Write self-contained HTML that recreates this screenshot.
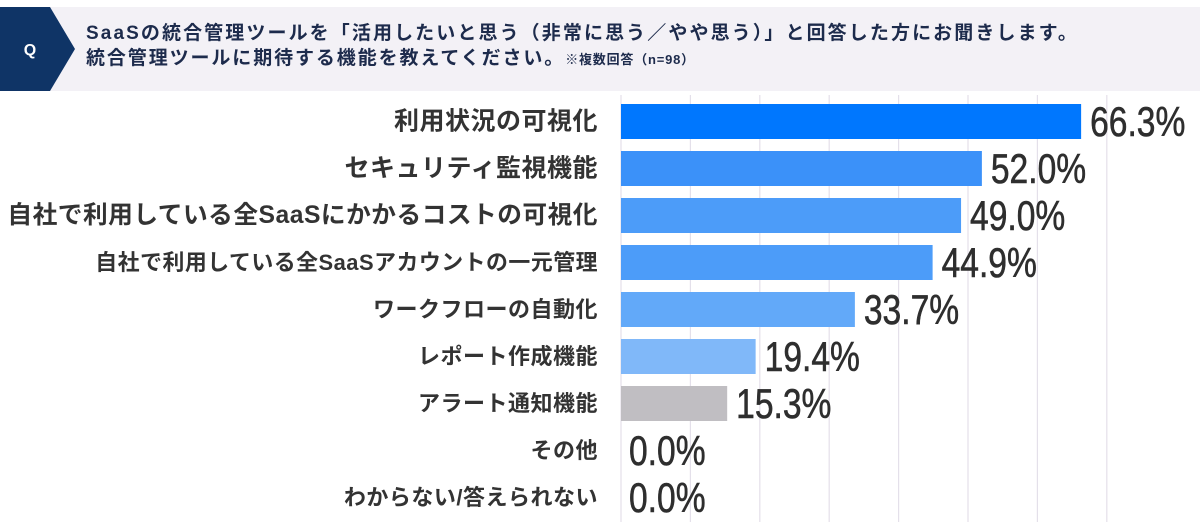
<!DOCTYPE html>
<html><head><meta charset="utf-8"><style>
body{margin:0;width:1200px;height:528px;background:#fff;overflow:hidden;font-family:"Liberation Sans","Noto Sans CJK JP",sans-serif;}
#hdr{position:absolute;left:0;top:7px;width:1200px;height:84px;background:#f3f1f6;}
.t{position:absolute;color:#1d2b4c;font-weight:bold;white-space:nowrap;}
</style></head><body>
<div id="hdr"></div>
<svg style="position:absolute;left:0;top:0" width="80" height="100">
<polygon points="0,7 50,7 75,49 50,91 0,91" fill="#0f3466"/>
<text x="30" y="55" fill="#fff" font-size="16" font-weight="bold" font-family="Liberation Sans" text-anchor="middle">Q</text>
</svg>
<div class="t" style="left:86px;top:18px;font-size:19px;letter-spacing:2.1px">SaaSの統合管理ツールを「活用したいと思う（非常に思う／やや思う）」と回答した方にお聞きします。</div>
<div class="t" style="left:86px;top:43px;font-size:19px;letter-spacing:1.9px">統合管理ツールに期待する機能を教えてください。<span style="font-size:13px;letter-spacing:0.8px">※複数回答（n=98）</span></div>
<svg id="chart" style="position:absolute;left:0;top:0" width="1200" height="528"></svg>
<script>
const categories=["利用状況の可視化","セキュリティ監視機能","自社で利用している全SaaSにかかるコストの可視化","自社で利用している全SaaSアカウントの一元管理","ワークフローの自動化","レポート作成機能","アラート通知機能","その他","わからない/答えられない"];
const values=[66.3,52.0,49.0,44.9,33.7,19.4,15.3,0.0,0.0];
const valueLabels=["66.3%","52.0%","49.0%","44.9%","33.7%","19.4%","15.3%","0.0%","0.0%"];
const gridTicks=[0,10,20,30,40,50,60,70];
const colors=["#0077fe","#3b91f9","#4c9cf9","#4c9cf9","#62a9f9","#80b8f9","#c0bec2","#c0bec2","#c0bec2"];
const labelSizes=[25,25,24.7,21.9,22,22,22,22,22];
const NS="http://www.w3.org/2000/svg";
const svg=document.getElementById('chart');
const x0=621,pxPer=6.94,rowTop=104,pitch=47,barH=35;
const xs=v=>x0+v*pxPer;
const yc=i=>rowTop+i*pitch+barH/2;
function mk(t,a){const e=document.createElementNS(NS,t);for(const k in a)e.setAttribute(k,a[k]);svg.appendChild(e);return e;}
gridTicks.forEach(t=>{
const l=mk('line',{x1:xs(t),x2:xs(t),y1:95,y2:522,stroke:'#e4e0ea','stroke-width':1.2});


});
categories.forEach((c,i)=>{
const y=yc(i);
const lab=mk('text',{x:598,y:y,'text-anchor':'end','dominant-baseline':'central','font-size':labelSizes[i],'font-weight':'bold',fill:'#333','letter-spacing':'0.5','font-family':'Liberation Sans, Noto Sans CJK JP, sans-serif'});
lab.textContent=c;


if(values[i]>0){
const r=mk('rect',{x:x0,y:y-barH/2,width:xs(values[i])-x0,height:barH,fill:colors[i]});


}
const vx=values[i]>0?xs(values[i])+9:x0+8;
const g=mk('text',{x:0,y:0,'font-size':42,fill:'#2e2e2e',stroke:'#2e2e2e','stroke-width':0.6,'font-family':'Liberation Sans, sans-serif','dominant-baseline':'central',transform:`translate(${vx},${y+1}) scale(0.8,1)`});
g.textContent=valueLabels[i];


});
</script>
</body></html>
